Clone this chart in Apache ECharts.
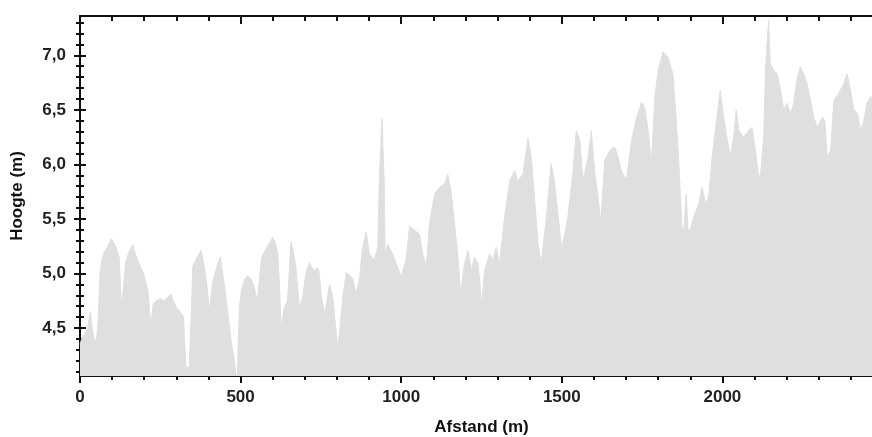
<!DOCTYPE html>
<html>
<head>
<meta charset="utf-8">
<script src="https://cdn.jsdelivr.net/npm/echarts@6/dist/echarts.min.js"></script>
<style>
html,body{margin:0;padding:0;background:#fff;}
#chart{width:872px;height:437px;}
</style>
</head>
<body>
<div id="chart"></div>
<script>
// Distance along the profile (m)
var distances = [0,8,16,24,32,38,45,52,57,62,68,76,85,97,106,115,122,127,130,136,142,150,158,164,172,180,190,198,206,212,218,221,228,238,250,262,272,283,290,302,312,322,327,330,340,346,351,360,370,377,385,393,400,403,412,420,430,437,444,452,462,470,478,481,485,490,493,496,503,512,522,532,540,548,553,560,566,578,588,600,608,616,621,626,
631,636,646,657,664,672,683,693,703,714,722,730,740,745,751,761,769,777,787,798,803,808,818,829,840,850,859,870,880,891,901,916,927,932,937,940,944,947,950,958,973,989,1000,1015,1026,1041,1057,1067,1078,1088,1104,1120,1135,1145,1155,1166,1176,1185,1197,1208,1218,1228,1239,
1245,1250,1260,1275,1286,1296,1306,1322,1338,1353,1363,1379,1395,1405,1415,1426,1436,1452,1467,1478,1488,1499,1509,1519,1535,1545,1556,1566,1582,1592,1602,1613,1621,1634,1650,1665,1675,1686,1701,1717,1733,1748,1758,1769,1779,1790,1800,1815,1831,1846,
1854,1864,1874,1880,1887,1893,1900,1911,1926,1937,1947,1957,1968,1983,1993,2004,2014,2025,2035,2043,2051,2066,2082,2092,2103,2111,2118,2129,2134,2139,2144,2149,2160,2170,2181,2191,2201,2212,2222,2233,2243,2253,2264,2274,2285,2295,2311,2319,2326,2337,2347,2362,2378,2388,2399,2409,2420,2430,2440,2450,2461,2475];
// Height (m)
var heights = [4.35,4.42,4.45,4.5,4.65,4.5,4.38,4.4,4.6,5.0,5.12,5.2,5.24,5.32,5.28,5.22,5.15,4.8,4.72,4.9,5.09,5.18,5.23,5.26,5.18,5.12,5.05,5.0,4.9,4.84,4.6,4.54,4.72,4.75,4.77,4.75,4.78,4.81,4.75,4.68,4.65,4.6,4.3,4.14,4.14,4.6,5.06,5.12,5.18,5.21,5.1,4.94,4.75,4.66,4.9,5.0,5.1,5.15,5.0,4.84,4.6,4.39,4.25,4.19,4.08,4.06,4.4,4.69,4.85,4.94,4.98,4.95,4.9,4.8,4.78,5.0,5.15,5.22,5.27,5.33,5.28,5.18,4.9,4.51,
4.6,4.69,4.75,5.29,5.2,5.06,4.69,4.78,5.0,5.1,5.05,5.03,5.05,5.0,4.8,4.63,4.75,4.9,4.78,4.45,4.31,4.32,4.78,5.01,4.98,4.95,4.81,4.95,5.24,5.38,5.18,5.12,5.24,5.85,6.2,6.42,6.1,5.85,5.18,5.27,5.18,5.06,4.97,5.12,5.43,5.4,5.36,5.18,5.06,5.46,5.73,5.79,5.82,5.91,5.76,5.46,5.18,4.81,5.09,5.21,5.03,5.15,5.09,
4.91,4.72,5.03,5.18,5.12,5.24,5.09,5.52,5.85,5.94,5.85,5.91,6.24,6.07,5.7,5.27,5.09,5.52,6.01,5.82,5.55,5.24,5.36,5.52,5.94,6.31,6.22,5.85,6.07,6.31,5.94,5.7,5.46,6.04,6.13,6.16,6.07,5.94,5.85,6.22,6.43,6.57,6.52,6.31,6.01,6.62,6.86,7.03,6.98,6.83,
6.5,6.04,5.43,5.4,5.73,5.4,5.4,5.52,5.64,5.79,5.64,5.7,6.07,6.43,6.68,6.43,6.25,6.07,6.25,6.5,6.31,6.25,6.31,6.34,6.13,5.92,5.88,6.28,6.86,7.11,7.32,6.92,6.86,6.83,6.68,6.5,6.56,6.47,6.56,6.8,6.89,6.83,6.74,6.59,6.43,6.34,6.43,6.4,6.07,6.13,6.59,6.65,6.74,6.83,6.68,6.5,6.47,6.31,6.4,6.56,6.62,6.6];

var yTickLabels = [4.5, 5.0, 5.5, 6.0, 6.5, 7.0];
var yMinorTicks = [4.1,4.2,4.3,4.4,4.6,4.7,4.8,4.9,5.1,5.2,5.3,5.4,5.6,5.7,5.8,5.9,6.1,6.2,6.3,6.4,6.6,6.7,6.8,6.9,7.1,7.2,7.3];
var xTickLabels = [0, 500, 1000, 1500, 2000];

var FONT = '"Liberation Sans", Arial, sans-serif';
var AX = '#111';
var pts = distances.map(function (d, i) { return [d, heights[i]]; });

var yMin = 4.06, yMax = 7.36, xMin = 0, xMax = 2500;

function yAx(opts) {
  var base = {
    type: 'value', position: 'left', min: yMin, max: yMax,
    axisLine: { show: false }, splitLine: { show: false },
    axisLabel: { show: false }, axisTick: { show: false }, minorTick: { show: false }
  };
  for (var k in opts) base[k] = opts[k];
  return base;
}
function xAx(opts) {
  var base = {
    type: 'value', position: 'bottom', min: xMin, max: xMax, interval: 500,
    axisLine: { show: false }, splitLine: { show: false },
    axisLabel: { show: false }, axisTick: { show: false }, minorTick: { show: false }
  };
  for (var k in opts) base[k] = opts[k];
  return base;
}

var chart = echarts.init(document.getElementById('chart'), null, { renderer: 'canvas' });
chart.setOption({
  animation: false,
  backgroundColor: '#ffffff',
  grid: { left: 80, top: 16, width: 803, bottom: 61, containLabel: false, outerBoundsMode: 'none' },
  xAxis: [
    xAx({
      name: 'Afstand (m)', nameLocation: 'middle', nameGap: 43,
      nameTextStyle: { fontFamily: FONT, fontSize: 17, fontWeight: 'bold', color: AX },
      axisLine: { show: true, lineStyle: { color: AX, width: 2 } },
      axisLabel: {
        show: true, margin: 13, fontFamily: FONT, fontSize: 17, fontWeight: 'bold', color: '#222',
        customValues: xTickLabels,
        formatter: function (v) { return String(Math.round(v)); }
      },
      axisTick: { show: true, length: 7, lineStyle: { color: AX, width: 2 } },
      minorTick: { show: true, splitNumber: 5, length: 4, lineStyle: { color: AX, width: 2 } }
    }),
    xAx({
      axisTick: { show: true, inside: true, length: 7, lineStyle: { color: AX, width: 2 } },
      minorTick: { show: true, splitNumber: 5, length: 4, lineStyle: { color: AX, width: 2 } }
    }),
    xAx({
      position: 'top',
      axisLine: { show: true, lineStyle: { color: AX, width: 2 } },
      axisTick: { show: true, inside: true, length: 8, lineStyle: { color: AX, width: 2 } },
      minorTick: { show: true, splitNumber: 5, length: 5, lineStyle: { color: AX, width: 2 } }
    })
  ],
  yAxis: [
    yAx({
      name: 'Hoogte (m)', nameLocation: 'middle', nameGap: 54, nameRotate: 90,
      nameTextStyle: { fontFamily: FONT, fontSize: 17, fontWeight: 'bold', color: AX },
      axisLine: { show: true, lineStyle: { color: AX, width: 2 } },
      axisLabel: {
        show: true, margin: 14, fontFamily: FONT, fontSize: 17, fontWeight: 'bold', color: '#222',
        customValues: yTickLabels,
        formatter: function (v) { return v.toFixed(1).replace('.', ','); }
      },
      axisTick: { show: true, length: 6, customValues: yTickLabels, lineStyle: { color: AX, width: 2 } }
    }),
    yAx({
      axisTick: { show: true, inside: true, length: 6, customValues: yTickLabels, lineStyle: { color: AX, width: 2 } }
    }),
    yAx({
      axisTick: { show: true, length: 4, customValues: yMinorTicks, lineStyle: { color: AX, width: 2 } }
    }),
    yAx({
      axisTick: { show: true, inside: true, length: 4, customValues: yMinorTicks, lineStyle: { color: AX, width: 2 } }
    })
  ],
  series: [{
    type: 'line',
    xAxisIndex: 0, yAxisIndex: 0,
    data: pts,
    showSymbol: false,
    silent: true,
    z: 1,
    lineStyle: { color: '#dfdfdf', width: 1 },
    areaStyle: { color: '#dfdfdf', opacity: 1, origin: 'start' }
  }]
});
</script>
</body>
</html>
